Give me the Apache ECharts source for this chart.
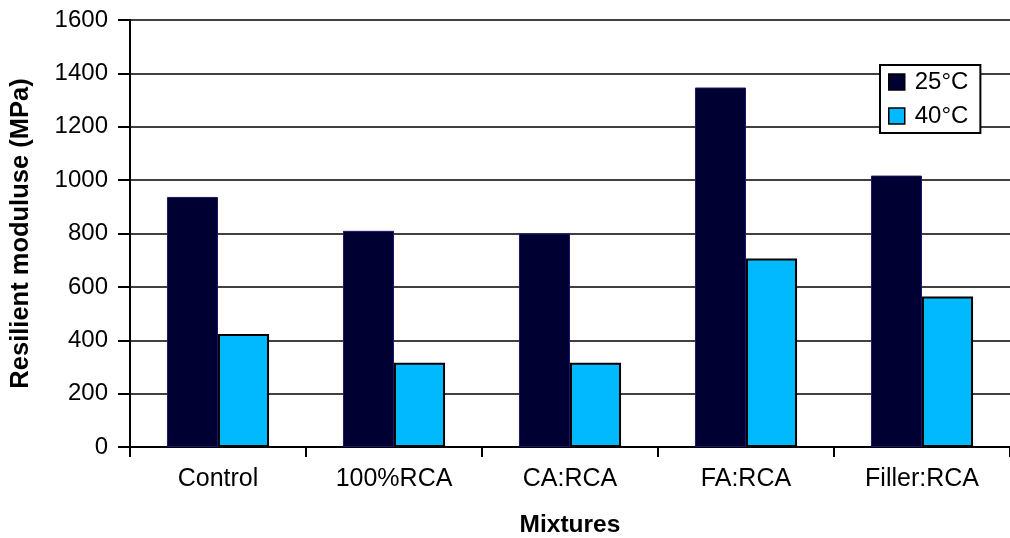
<!DOCTYPE html>
<html>
<head>
<meta charset="utf-8">
<script src="https://cdn.jsdelivr.net/npm/echarts@6/dist/echarts.min.js"></script>
<style>html,body{margin:0;padding:0;background:#fff;}#chart{width:1010px;height:538px;}</style>
</head>
<body>
<div id="chart"></div>
<script>
const categories = ['Control', '100%RCA', 'CA:RCA', 'FA:RCA', 'Filler:RCA'];
const seriesNames = ['25°C', '40°C'];
const values25 = [937, 810, 800, 1347, 1017];
const values40 = [423, 316, 316, 706, 564];
const yTicks = { min: 0, max: 1600, interval: 200 };

const FONT = '"Liberation Sans", Arial, sans-serif';
const chart = echarts.init(document.getElementById('chart'), null, { renderer: 'canvas' });
chart.setOption({
  animation: false,
  backgroundColor: '#fff',
  grid: { left: 130, right: 0, top: 20, bottom: 91, containLabel: false, outerBoundsMode: 'none' },
  legend: {
    orient: 'vertical',
    left: 880, top: 65,
    padding: [5, 12, 5, 8],
    itemGap: 10,
    itemWidth: 16, itemHeight: 16,
    icon: 'rect',
    backgroundColor: '#fff',
    borderColor: '#000', borderWidth: 2,
    textStyle: { fontFamily: FONT, fontSize: 24, color: '#000', padding: [0, 0, 0, 5] },
    itemStyle: { borderColor: '#000', borderWidth: 1.5 },
    data: seriesNames
  },
  xAxis: {
    type: 'category',
    data: categories,
    name: 'Mixtures',
    nameLocation: 'middle',
    nameGap: 66,
    nameTextStyle: { fontFamily: FONT, fontSize: 24.5, fontWeight: 'bold', color: '#000' },
    axisLine: { lineStyle: { color: '#000', width: 2 } },
    axisTick: { show: true, length: 10, lineStyle: { color: '#000', width: 2 } },
    axisLabel: { fontFamily: FONT, fontSize: 25, color: '#000', margin: 20 },
    splitLine: { show: false }
  },
  yAxis: {
    type: 'value',
    min: yTicks.min, max: yTicks.max, interval: yTicks.interval,
    name: 'Resilient moduluse (MPa)',
    nameLocation: 'middle',
    nameRotate: 90,
    nameGap: 96,
    nameTextStyle: { fontFamily: FONT, fontSize: 25.5, fontWeight: 'bold', color: '#000' },
    axisLine: { show: true, lineStyle: { color: '#000', width: 2 } },
    axisTick: { show: true, length: 12, lineStyle: { color: '#000', width: 2 } },
    axisLabel: { fontFamily: FONT, fontSize: 24, color: '#000', margin: 22, formatter: v => String(v) },
    splitLine: { show: true, lineStyle: { color: '#000', width: 1.5 } }
  },
  series: [
    {
      name: seriesNames[0], type: 'bar', data: values25,
      barGap: '0%', barCategoryGap: '42%',
      itemStyle: { color: '#000033', borderColor: '#1a1a66', borderWidth: 1 }
    },
    {
      name: seriesNames[1], type: 'bar', data: values40,
      barGap: '0%', barCategoryGap: '42%',
      itemStyle: { color: '#00B9FF', borderColor: '#000', borderWidth: 2 }
    }
  ]
});
</script>
</body>
</html>
